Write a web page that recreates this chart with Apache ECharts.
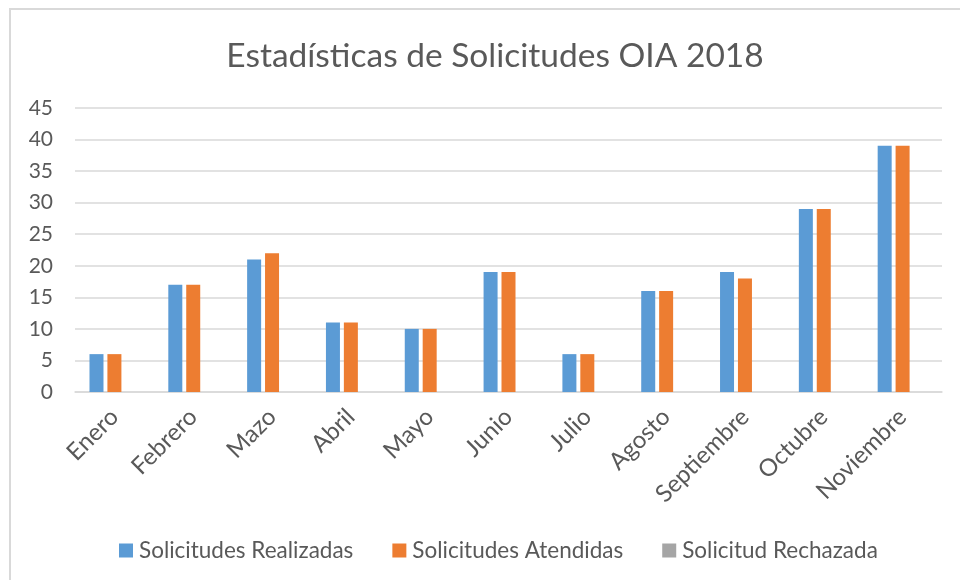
<!DOCTYPE html>
<html><head><meta charset="utf-8">
<script src="https://cdn.jsdelivr.net/npm/echarts@6/dist/echarts.min.js"></script>
<style>html,body{margin:0;padding:0;background:#fff}#c{width:960px;height:580px}</style>
</head><body><div id="c"></div>
<script>
var titleText = 'Estadísticas de Solicitudes OIA 2018';
var categories = ['Enero','Febrero','Mazo','Abril','Mayo','Junio','Julio','Agosto','Septiembre','Octubre','Noviembre'];
var seriesNames = ['Solicitudes Realizadas','Solicitudes Atendidas','Solicitud Rechazada'];
var realizadas = [6,17,21,11,10,19,6,16,19,29,39];
var atendidas  = [6,17,22,11,10,19,6,16,18,29,39];
var rechazada  = [0,0,0,0,0,0,0,0,0,0,0];
var yTicks = [0,5,10,15,20,25,30,35,40,45];
var colors = ['#5B9BD5','#ED7D31','#A5A5A5'];

var FONT = 'Lato';
var chart = echarts.init(document.getElementById('c'), null, {renderer:'canvas'});
var dataSets = [realizadas, atendidas, rechazada];
chart.setOption({
  animation:false,
  textStyle:{fontFamily:FONT},
  graphic:[{type:'rect', shape:{x:10,y:9,width:980,height:620}, style:{fill:'none', stroke:'#d9d9d9', lineWidth:2}, z:-1}],
  title:{text:titleText, left:490, textAlign:'center', top:34, textStyle:{fontFamily:FONT, fontSize:33.5, fontWeight:'normal', color:'#595959'}},
  legend:{top:534, left:114, itemWidth:14, itemHeight:14, itemGap:39, icon:'rect',
    textStyle:{fontFamily:FONT, fontSize:22.5, color:'#595959', padding:[0,0,0,1]}, data:seriesNames},
  grid:{left:75, right:18, top:108, bottom:188},
  xAxis:{type:'category', data:categories,
    axisLine:{lineStyle:{color:'#d9d9d9', width:1.5}}, axisTick:{show:false},
    axisLabel:{rotate:45, fontSize:24, color:'#595959', margin:21, fontFamily:FONT}},
  yAxis:{type:'value', min:yTicks[0], max:yTicks[yTicks.length-1], interval:yTicks[1]-yTicks[0],
    axisLine:{show:false}, axisTick:{show:false},
    axisLabel:{fontSize:21, color:'#595959', margin:22, fontFamily:FONT},
    splitLine:{lineStyle:{color:'#d9d9d9', width:1.5}}},
  series: seriesNames.map(function(n,i){
    return {name:n, type:'bar', data:dataSets[i], barWidth:14, barGap:'28%',
      itemStyle:{color:colors[i]}};
  })
});
</script></body></html>
